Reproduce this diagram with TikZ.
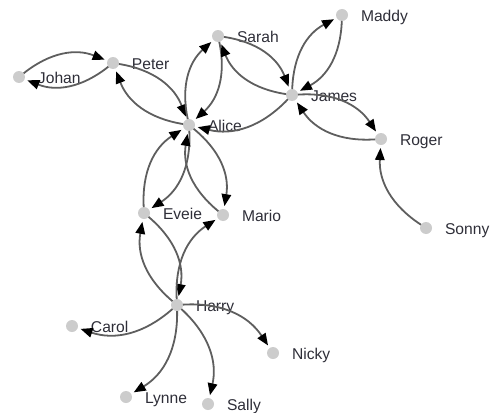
\documentclass[tikz,border=0pt]{standalone}
\usepackage{fontspec}
\setmainfont{Liberation Sans}
\usepackage{xcolor}
\usepackage{tikz}
\usetikzlibrary{positioning,arrows.meta}
\definecolor{nodegray}{HTML}{CCCCCC}
\definecolor{linkgray}{HTML}{5E5E5E}
\definecolor{textdark}{HTML}{2E2E38}
\tikzstyle{person} = [circle, fill=nodegray, minimum size=0.24cm, inner sep=0pt, outer sep=0.06cm]
\tikzstyle{nametag} = [font=\fontsize{8.9}{10}\selectfont, text=textdark, inner sep=0pt, outer sep=0pt, text height=0.72em, text depth=0pt]
\tikzstyle{link} = [-{Triangle[length=0.24cm, width=0.19cm, color=black]}, draw=linkgray, line width=0.036cm, shorten <=-0.06cm]

\begin{document}
\begin{tikzpicture}[x=0.02cm, y=-0.02cm]
    \useasboundingbox (0,0) rectangle (492,412);
    % People
    \node[person] (johan) at (19,77) {};
    \node[person] (peter) at (113,63) {};
    \node[person] (sarah) at (218,36) {};
    \node[person] (maddy) at (342,15) {};
    \node[person] (james) at (292,95) {};
    \node[person] (alice) at (189,125) {};
    \node[person] (roger) at (381,139) {};
    \node[person] (sonny) at (426,228) {};
    \node[person] (eveie) at (144,213) {};
    \node[person] (mario) at (223,215) {};
    \node[person] (harry) at (177,305) {};
    \node[person] (carol) at (72,326) {};
    \node[person] (nicky) at (273,353) {};
    \node[person] (lynne) at (126,397) {};
    \node[person] (sally) at (208,404) {};

    % Names
    \node[nametag, right=0.2cm of johan] (johantag) {Johan};
    \node[nametag, right=0.2cm of peter] (petertag) {Peter};
    \node[nametag, right=0.2cm of sarah] (sarahtag) {Sarah};
    \node[nametag, right=0.2cm of maddy] (maddytag) {Maddy};
    \node[nametag, right=0.2cm of james] (jamestag) {James};
    \node[nametag, right=0.2cm of alice] (alicetag) {Alice};
    \node[nametag, right=0.2cm of roger] (rogertag) {Roger};
    \node[nametag, right=0.2cm of sonny] (sonnytag) {Sonny};
    \node[nametag, right=0.2cm of eveie] (eveietag) {Eveie};
    \node[nametag, right=0.2cm of mario] (mariotag) {Mario};
    \node[nametag, right=0.2cm of harry] (harrytag) {Harry};
    \node[nametag, right=0.2cm of carol] (caroltag) {Carol};
    \node[nametag, right=0.2cm of nicky] (nickytag) {Nicky};
    \node[nametag, right=0.2cm of lynne] (lynnetag) {Lynne};
    \node[nametag, right=0.2cm of sally] (sallytag) {Sally};

    % Links
    \draw[link] (johan) to[bend left=30] (peter);
    \draw[link] (peter) to[bend left=30] (johan);
    \draw[link] (peter) to[bend left=30] (alice);
    \draw[link] (alice) to[bend left=30] (peter);
    \draw[link] (alice) to[bend left=30] (sarah);
    \draw[link] (sarah) to[bend left=30] (alice);
    \draw[link] (sarah) to[bend left=30] (james);
    \draw[link] (james) to[bend left=30] (sarah);
    \draw[link] (james) to[bend left=30] (maddy);
    \draw[link] (maddy) to[bend left=30] (james);
    \draw[link] (james) to[bend left=30] (alice);
    \draw[link] (james) to[bend left=30] (roger);
    \draw[link] (roger) to[bend left=30] (james);
    \draw[link] (sonny) to[bend left=30] (roger);
    \draw[link] (alice) to[bend left=30] (eveie);
    \draw[link] (eveie) to[bend left=30] (alice);
    \draw[link] (alice) to[bend left=30] (mario);
    \draw[link] (mario) to[bend left=30] (alice);
    \draw[link] (eveie) to[bend left=30] (harry);
    \draw[link] (harry) to[bend left=30] (eveie);
    \draw[link] (harry) to[bend left=30] (mario);
    \draw[link] (harry) to[bend left=30] (carol);
    \draw[link] (harry) to[bend left=30] (nicky);
    \draw[link] (harry) to[bend left=30] (lynne);
    \draw[link] (harry) to[bend left=30] (sally);
\end{tikzpicture}
\end{document}
